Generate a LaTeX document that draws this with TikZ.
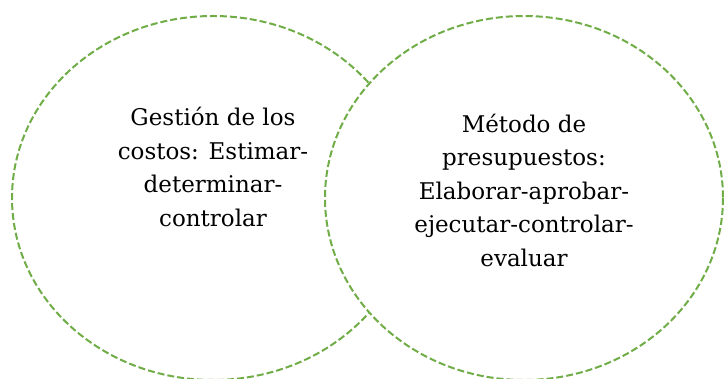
\documentclass[tikz,border=0pt]{standalone}
\usepackage{fontspec}
\setmainfont{DejaVu Serif}
\definecolor{ogreen}{HTML}{70AD47}
\begin{document}
\begin{tikzpicture}[x=1pt,y=-1pt,
  ring/.style={draw=ogreen,fill=white,line width=2pt,dash pattern=on 7pt off 3pt},
  lbl/.style={align=center,font=\fontsize{23}{33.5}\selectfont,text=black}]
\useasboundingbox (0,0) rectangle (724,379);
\draw[ring] (213,198) ellipse [x radius=201,y radius=182];
\draw[ring] (524,198) ellipse [x radius=199,y radius=182];
\node[lbl] (a) at (213,167) {Gestión de los\\costos: Estimar-\\determinar-\\controlar};
\node[lbl] (b) at (524,190) {Método de\\presupuestos:\\Elaborar-aprobar-\\ejecutar-controlar-\\evaluar};
\end{tikzpicture}
\end{document}
